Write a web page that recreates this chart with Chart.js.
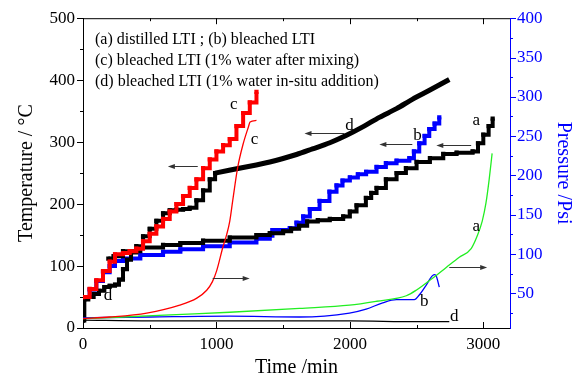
<!DOCTYPE html>
<html>
<head>
<meta charset="utf-8">
<script src="https://cdn.jsdelivr.net/npm/chart.js@4.4.1/dist/chart.umd.min.js"></script>
<style>
  html, body { margin: 0; padding: 0; background: #fff; }
</style>
</head>
<body>
<canvas id="chart" width="577" height="380"></canvas>
<script>
// temperature curves [time min, deg C]
const tempA = [[190,112],[230,116],[300,124],[430,130],[600,134],[730,137],[900,141],[1100,146],[1300,150],[1400,153],[1500,156],[1560,160],[1620,165],[1680,172],[1760,174],[1850,176],[1950,180],[2000,188],[2050,198],[2120,210],[2160,218],[2200,226],[2270,240],[2350,250],[2420,258],[2500,268],[2600,274],[2700,281],[2800,283],[2920,285],[2960,298],[3000,312],[3040,326],[3070,338]];
const tempB = [[0,50],[50,62],[100,76],[150,90],[200,100],[240,108],[300,112],[430,118],[600,123],[730,127],[900,132],[1100,138],[1300,144],[1400,149],[1420,158],[1550,161],[1600,170],[1650,180],[1700,192],[1773,205],[1847,220],[1900,230],[1945,238],[2000,243],[2060,248],[2122,252],[2200,260],[2270,266],[2350,270],[2446,274],[2480,285],[2520,298],[2560,310],[2595,321],[2635,330],[2670,340]];
const tempC = [[0,50],[50,63],[100,77],[150,92],[200,107],[240,119],[300,121],[350,124],[400,128],[450,140],[500,152],[550,164],[600,176],[650,188],[700,200],[750,213],[800,226],[850,240],[900,258],[950,272],[1000,285],[1050,295],[1100,305],[1150,326],[1200,347],[1250,364],[1300,381]];
const tempDSteps = [[0,12],[10,46],[40,50],[80,55],[120,60],[160,66],[200,68],[240,70],[270,78],[300,95],[330,110],[360,122],[400,132],[450,148],[500,160],[550,173],[600,185],[650,190],[700,191],[750,192],[800,194],[850,206],[900,222],[950,240],[990,250]];
const tempDCurve = [[990,250],[1200,259],[1400,268],[1600,280],[1720,289],[1850,299],[1975,311],[2100,325],[2221,340],[2350,354],[2468,369],[2600,384],[2745,401]];

// pressure curves [time min, psi]
const pressA = [[0,18],[300,20],[700,23],[1100,26],[1623,31],[1997,35],[2200,40],[2423,47],[2497,54],[2617,69],[2722,83],[2820,96],[2909,107],[2954,123],[2992,142],[3020,165],[3044,195],[3066,228]];
const pressB = [[0,19],[500,20],[1100,21],[1623,20],[1997,25],[2122,30],[2246,38],[2348,42],[2483,42],[2520,48],[2570,60],[2632,74],[2645,73],[2670,58]];
const pressC = [[0,18],[200,20],[478,25],[725,35],[853,44],[927,54],[970,65],[1002,79],[1047,108],[1077,125],[1100,142],[1122,168],[1159,210],[1200,240],[1240,262],[1252,268],[1300,270]];
const pressD = [[0,16],[500,15],[1000,15],[1500,15],[2000,15],[2500,14],[2745,14]];

const timeTicks = [0, 1000, 2000, 3000];
const tempTicks = [0, 100, 200, 300, 400, 500];
const pressTicks = [50, 100, 150, 200, 250, 300, 350, 400];

const legendLines = [
  '(a) distilled LTI ; (b) bleached LTI',
  '(c) bleached LTI (1% water after mixing)',
  '(d) bleached LTI (1% water in-situ addition)'
];

// curve letters and arrows, placed in data units (time, temperature)
const letters = [['c',1130,361],['c',1285,304],['d',187,52],['d',1997,327],['b',2506,311],['a',2947,335],['a',2947,163],['b',2558,42],['d',2782,18]];
const arrows = [[860,636,262],[972,1249,81],[1960,1660,315],[2468,2221,297],[2909,2648,296],[2745,3029,99]];

const serif = "'Liberation Serif', 'DejaVu Serif', serif";
const BLUE = '#0000ff';
Chart.defaults.font.family = serif;

function pts(arr) {
  return arr.map(p => ({x: p[0], y: p[1]}));
}

function thin(data, color) {
  return {data: pts(data), yAxisID: 'y2', borderColor: color, borderWidth: 1.3,
    pointRadius: 0, cubicInterpolationMode: 'monotone', fill: false};
}

function thick(data, color, stepped) {
  return {data: pts(data), yAxisID: 'y', borderColor: color, backgroundColor: color,
    borderWidth: stepped ? 4 : 5, pointStyle: 'rect', pointRadius: stepped ? 3 : 0,
    pointBorderWidth: 0, stepped: stepped, tension: stepped ? 0 : 0.3,
    borderJoinStyle: 'miter', fill: false};
}

const plain = v => String(v);

const decor = {
  id: 'decor',
  afterDraw(chart) {
    const {ctx, chartArea: a, scales: {x, y, y2}} = chart;
    ctx.save();
    ctx.lineWidth = 1;

    // top frame line
    ctx.strokeStyle = '#000';
    ctx.beginPath();
    ctx.moveTo(a.left, a.top + 0.5);
    ctx.lineTo(a.right, a.top + 0.5);
    ctx.stroke();

    // tick marks
    ctx.beginPath();
    for (let v = 0; v <= 500; v += 50) {
      const py = Math.round(y.getPixelForValue(v)) + 0.5;
      const len = v % 100 === 0 ? 6 : 3;
      ctx.moveTo(a.left - len, py); ctx.lineTo(a.left, py);
    }
    for (let v = 0; v <= 3000; v += 500) {
      const px = Math.round(x.getPixelForValue(v)) + 0.5;
      const len = v % 1000 === 0 ? 6 : 3;
      ctx.moveTo(px, a.bottom); ctx.lineTo(px, a.bottom - len);
      ctx.moveTo(px, a.top); ctx.lineTo(px, a.top + len);
    }
    ctx.stroke();

    ctx.strokeStyle = BLUE;
    ctx.beginPath();
    for (let v = 25; v <= 400; v += 25) {
      const py = Math.round(y2.getPixelForValue(v)) + 0.5;
      const len = v % 50 === 0 ? 6 : 3;
      ctx.moveTo(a.right, py); ctx.lineTo(a.right + len, py);
    }
    ctx.stroke();

    // text block
    ctx.fillStyle = '#000';
    ctx.font = '16px ' + serif;
    ctx.textAlign = 'left';
    ctx.textBaseline = 'alphabetic';
    legendLines.forEach((s, i) => ctx.fillText(s, a.left + 12, a.top + 26 + i * 21));

    // letters
    ctx.font = '17px ' + serif;
    ctx.textAlign = 'center';
    ctx.textBaseline = 'middle';
    letters.forEach(([s, t, v]) => ctx.fillText(s, x.getPixelForValue(t), y.getPixelForValue(v)));

    // arrows (from tail to head)
    ctx.strokeStyle = '#333';
    ctx.fillStyle = '#333';
    arrows.forEach(([t0, t1, v]) => {
      const x0 = x.getPixelForValue(t0), x1 = x.getPixelForValue(t1);
      const py = Math.round(y.getPixelForValue(v)) + 0.5;
      const dir = Math.sign(x1 - x0);
      ctx.beginPath();
      ctx.moveTo(x0, py); ctx.lineTo(x1 - dir * 4, py);
      ctx.stroke();
      ctx.beginPath();
      ctx.moveTo(x1, py);
      ctx.lineTo(x1 - dir * 7, py - 2.5);
      ctx.lineTo(x1 - dir * 7, py + 2.5);
      ctx.closePath();
      ctx.fill();
    });
    ctx.restore();
  }
};

new Chart(document.getElementById('chart').getContext('2d'), {
  type: 'line',
  data: {
    datasets: [
      thin(pressC, '#ff0000'),
      thin(pressA, '#22ee22'),
      thin(pressB, BLUE),
      thin(pressD, '#000'),
      thick(tempC, '#ff0000', true),
      thick(tempDSteps, '#000', true),
      thick(tempDCurve, '#000', false),
      thick(tempA, '#000', true),
      thick(tempB, BLUE, true)
    ]
  },
  options: {
    responsive: false,
    animation: false,
    layout: {padding: {top: 15, left: 0, right: 0, bottom: 0}},
    plugins: {legend: {display: false}, tooltip: {enabled: false}},
    scales: {
      x: {
        type: 'linear', min: 0, max: 3200,
        afterBuildTicks: s => { s.ticks = timeTicks.map(v => ({value: v})); },
        afterFit: s => { s.height = 52; },
        grid: {display: false, drawTicks: false},
        border: {display: true, color: '#000', width: 1},
        ticks: {color: '#000', padding: 6, maxRotation: 0, callback: plain, font: {family: serif, size: 17}},
        title: {display: true, text: 'Time /min', color: '#000', padding: {top: 0, bottom: 0},
          font: {family: serif, size: 20}}
      },
      y: {
        position: 'left', min: 0, max: 500,
        afterBuildTicks: s => { s.ticks = tempTicks.map(v => ({value: v})); },
        afterFit: s => { s.width = 83; },
        grid: {display: false, drawTicks: false},
        border: {display: true, color: '#000', width: 1},
        ticks: {color: '#000', padding: 8, callback: plain, font: {family: serif, size: 17}},
        title: {display: true, text: 'Temperature / °C', color: '#000', padding: {top: 15, bottom: 0},
          font: {family: serif, size: 20}}
      },
      y2: {
        position: 'right', min: 6, max: 400,
        afterBuildTicks: s => { s.ticks = pressTicks.map(v => ({value: v})); },
        afterFit: s => { s.width = 67; },
        grid: {display: false, drawTicks: false},
        border: {display: true, color: BLUE, width: 1},
        ticks: {color: BLUE, padding: 7, callback: plain, font: {family: serif, size: 17}},
        title: {display: true, text: 'Pressure /Psi', color: BLUE, padding: {top: 2, bottom: 0},
          font: {family: serif, size: 20}}
      }
    }
  },
  plugins: [decor]
});
</script>
</body>
</html>
